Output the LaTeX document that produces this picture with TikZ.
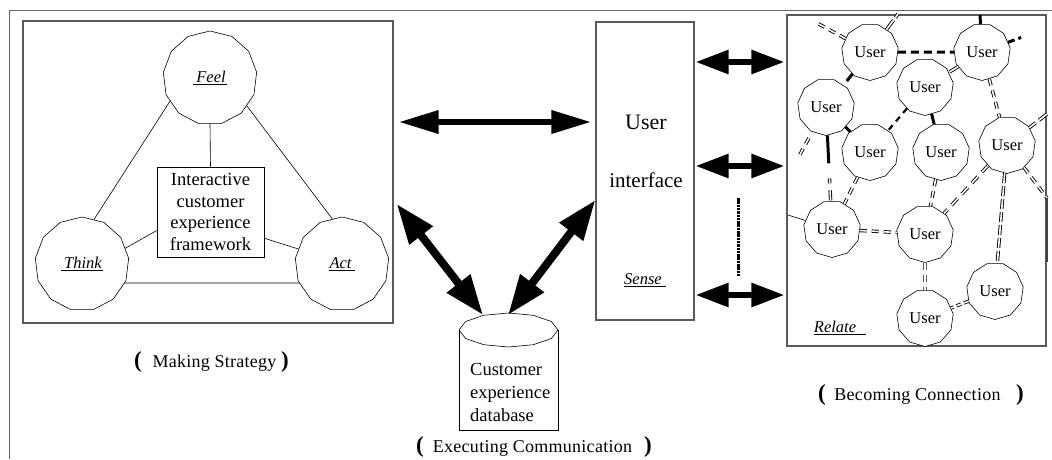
\documentclass[tikz,border=0pt]{standalone}
\usepackage{fontspec}
\setmainfont{Liberation Serif}
\newfontfamily\spacedfont[LetterSpace=1.5]{Liberation Serif}
\usetikzlibrary{arrows.meta,shapes.geometric}

\begin{document}
\begin{tikzpicture}[x=1pt,y=-1pt,
  frame/.style={draw=black!60, line width=1.3pt},
  panel/.style={draw=black!65, line width=1.2pt, rectangle, inner sep=0pt},
  bigpoly/.style={draw, line width=0.6pt, regular polygon, regular polygon sides=13,
    minimum size=94pt, inner sep=0pt, fill=white, font=\fontsize{16.5}{18}\selectfont\itshape},
  userpoly/.style={draw, line width=0.6pt, regular polygon, regular polygon sides=11,
    shape border rotate=180, minimum size=57pt, inner sep=0pt, fill=white,
    font=\fontsize{16.5}{18}\selectfont},
  tag/.style={font=\fontsize{16.5}{18}\selectfont\itshape, inner sep=0pt},
  linkline/.style={line width=0.6pt},
  bigtext/.style={font=\fontsize{18.5}{21.5}\selectfont, align=center, inner sep=0pt},
  caption/.style={font=\fontsize{18}{20}\spacedfont, inner sep=0pt},
  paren/.style={font=\fontsize{23}{24}\selectfont\bfseries, inner sep=0pt},
  wideway/.style={line width=6.5pt,
    {Triangle[length=40pt,width=22pt]}-{Triangle[length=40pt,width=22pt]}},
  slantway/.style={line width=8pt,
    {Triangle[length=40pt,width=28pt]}-{Triangle[length=40pt,width=28pt]}},
  sideway/.style={line width=6pt,
    {Triangle[length=33pt,width=23pt]}-{Triangle[length=33pt,width=23pt]}},
  hollow/.style={line width=0.9pt, double=white, double distance=1.6pt,
    dash pattern=on 7pt off 5pt},
  solidbar/.style={line width=3pt},
  bardash/.style={line width=3pt, dash pattern=on 8pt off 5pt}
]
\useasboundingbox (0,0) rectangle (1052,459);

% outer frame (top and left edges)
\coordinate (fb) at (9.5,459);
\coordinate (fc) at (9.5,10.5);
\coordinate (fr) at (1052,10.5);
\draw[frame] (fb) -- (fc) -- (fr);

% ---------- strategy panel ----------
\node[panel, minimum width=370pt, minimum height=302pt] (strat) at (208,172) {};
\node[bigpoly] (feel)  at (210,78)  {\underline{\hspace{3pt}Feel\hspace{1pt}}};
\node[bigpoly] (think) at (82,264)  {\underline{\hspace{3pt}Think\hspace{1pt}}};
\node[bigpoly] (act)   at (342,264) {\underline{\hspace{1pt}Act\hspace{4pt}}};
\node[draw, line width=0.6pt, minimum width=107pt, minimum height=90pt, bigtext, fill=white]
  (core) at (210.5,212) {Interactive\\customer\\experience\\framework};

\draw[linkline] (feel.210) -- (think.75);
\draw[linkline] (feel.-37) -- (act.102);
\draw[linkline] (think.-24) -- (act.204);
\draw[linkline] (feel.south) -- (core.north);
\draw[linkline] (core.199) -- (think.20);
\draw[linkline] (core.-26) -- (act.161);

% ---------- user interface ----------
\node[panel, minimum width=98pt, minimum height=298pt] (ui) at (645,171) {};
\node[font=\fontsize{22}{24}\selectfont, inner sep=0pt] (uiA) at (646,122) {User};
\node[font=\fontsize{21}{24}\selectfont, inner sep=0pt] (uiB) at (646,180) {interface};
\node[tag] (sense) at (645,280) {\underline{Sense\hspace{4pt}}};

% ---------- database ----------
\node[draw, line width=0.6pt, minimum width=99pt, minimum height=100pt, inner sep=0pt]
  (db) at (508.5,380) {};
\draw[line width=0.6pt, fill=white]
  plot[samples=13, domain=0:360] ({508.5+49.5*cos(\x)},{330+17*sin(\x)}) -- cycle;
\node[font=\fontsize{18.5}{23}\selectfont, align=left, inner sep=0pt, anchor=west]
  (dbtext) at (470,392) {Customer\\experience\\database};
\coordinate (dbL) at (483,315);
\coordinate (dbR) at (508,315);

% ---------- network ----------
\node[panel, minimum width=259pt, minimum height=331pt] (net) at (916.5,180.5) {};
\node[tag] (relate) at (840,328) {\underline{Relate\hspace{10pt}}};

\node[userpoly] (u1)  at (870,52)  {User};
\node[userpoly] (u2)  at (982,52)  {User};
\node[userpoly] (u3)  at (925,87)  {User};
\node[userpoly] (u4)  at (826,107) {User};
\node[userpoly] (u5)  at (870,152) {User};
\node[userpoly] (u6)  at (941,152) {User};
\node[userpoly] (u7)  at (1007,145) {User};
\node[userpoly] (u8)  at (832,229) {User};
\node[userpoly] (u9)  at (925,234) {User};
\node[userpoly] (u10) at (995,291) {User};
\node[userpoly] (u11) at (925,318) {User};

\coordinate (n1) at (817,23);
\coordinate (n2) at (898,14);
\coordinate (n3) at (980,15);
\coordinate (n4) at (1025,36);
\coordinate (n5) at (1047,114);
\coordinate (n6) at (798,158);
\coordinate (n7) at (1047,198);
\coordinate (n8) at (1047,262);
\coordinate (n9) at (788,215);

\draw[hollow] (u1) -- (n1);
\draw[hollow, dash pattern=on 12pt off 3pt] (u1) -- (n2);
\draw[solidbar, dash pattern=on 9pt off 40pt] (u1) -- (u4);
\draw[bardash] (u1) -- (u2);
\draw[solidbar] (u2) -- (n3);
\draw[solidbar, dash pattern=on 7pt off 4pt on 3pt off 10pt] (u2) -- (n4);
\draw[hollow, dash pattern=on 10pt off 20pt] (u2) -- (u3);
\draw[hollow] (u2) -- (u7);
\draw[hollow, dash pattern=on 8pt off 4pt on 10pt off 4pt] (u7) -- (n5);
\draw[bardash, line width=2.2pt, dash pattern=on 6pt off 5pt] (u3) -- (u5);
\draw[solidbar] (u3) -- (u6);
\draw[solidbar] (u4) -- (u5);
\draw[bardash, dash pattern=on 28pt off 100pt] (u4) -- (u8);
\draw[hollow, dash pattern=on 0pt off 43pt on 5pt off 7pt on 10pt off 60pt] (u4) -- (u8);
\draw[hollow, shorten <=7pt] (u4) -- (n6);
\draw[hollow] (u5) -- (u8);
\draw[hollow] (u6) -- (u9);
\draw[hollow, dash pattern=on 9pt off 6pt] (u7) -- (u9);
\draw[hollow, dash pattern=on 10pt off 3pt] (u7) -- (u10);
\draw[hollow] (u7) -- (n7);
\draw[line width=1.6pt, black!75] (n7) -- (n8);
\draw[hollow] (u8) -- (u9);
\draw[linkline] (n9) -- (u8);
\draw[hollow] (u9) -- (u11);
\draw[hollow, dash pattern=on 5pt off 3pt] (u10) -- (u11);

% ---------- arrows ----------
\draw[wideway, shorten <=5pt, shorten >=4pt] (strat.east |- 0,122) -- (ui.west |- 0,122);
\draw[slantway, shorten <=5pt] (strat.east |- 0,200) -- (dbL);
\draw[slantway] (ui.west |- 0,200) -- (dbR);
\draw[sideway, shorten <=1pt, shorten >=2pt] (ui.east |- 0,62)  -- (net.west |- 0,62);
\draw[sideway, shorten <=1pt, shorten >=2pt] (ui.east |- 0,166) -- (net.west |- 0,166);
\draw[sideway, shorten <=1pt, shorten >=2pt] (ui.east |- 0,295) -- (net.west |- 0,295);
\coordinate (dA) at (738,198);
\coordinate (dB) at (738,277);
\draw[line width=3pt, dash pattern=on 2.5pt off 0.8pt] (dA) -- (dB);

% ---------- captions ----------
\node[paren]   (p1) at (138,362) {(};
\node[caption] (c1) at (214.5,363) {Making Strategy};
\node[paren]   (p2) at (285,362) {)};
\node[paren]   (p3) at (420,447) {(};
\node[caption] (c2) at (532.5,448) {Executing Communication};
\node[paren]   (p4) at (648,447) {)};
\node[paren]   (p5) at (822,395) {(};
\node[caption] (c3) at (917.5,396) {Becoming Connection};
\node[paren]   (p6) at (1020,395) {)};
\end{tikzpicture}
\end{document}
